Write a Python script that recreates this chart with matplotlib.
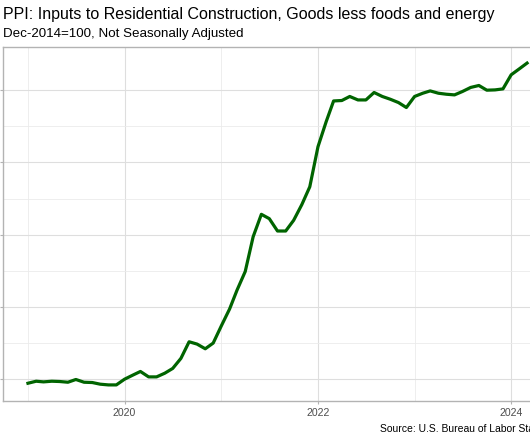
import pandas as pd
import matplotlib
matplotlib.use("Agg")
import matplotlib.pyplot as plt
import matplotlib.dates as mdates

plt.rcParams['font.family'] = ['Liberation Sans', 'DejaVu Sans']

### monthly index, Dec-2014=100
dates = pd.date_range("2019-01-01", periods=63, freq="MS")
ppi = [
    109.44, 109.72, 109.63, 109.72, 109.68, 109.58, 109.96, 109.58, 109.54, 109.31, 109.21, 109.21,
    110.00, 110.56, 111.07, 110.32, 110.32, 110.83, 111.49, 112.88, 115.18, 114.86, 114.21, 115.00,
    117.40, 119.72, 122.32, 124.90, 129.72, 132.82, 132.22, 130.51, 130.51, 131.99, 134.17, 136.63,
    142.18, 145.65, 148.51, 148.57, 149.13, 148.65, 148.65, 149.68, 149.13, 148.75, 148.29, 147.60,
    149.13, 149.58, 149.90, 149.58, 149.44, 149.35, 149.82, 150.38, 150.65, 150.00, 150.04, 150.18,
    152.13, 152.96, 153.75,
]
major_years = [2020, 2022, 2024]
minor_years = [2019, 2021, 2023]

W, H = 530, 442
fig = plt.figure(figsize=(W / 100, H / 100), dpi=100)
# panel runs off the right edge like the cropped original
ax = fig.add_axes([3 / W, 41 / H, 549 / W, 354 / H])

ax.plot(dates, ppi, color="#006400", lw=2.3, solid_joinstyle="round")
ax.margins(x=0.05, y=0.05)

ax.set_xticks([pd.Timestamp(f"{y}-01-01") for y in major_years])
ax.set_xticks([pd.Timestamp(f"{y}-01-01") for y in minor_years], minor=True)
ax.xaxis.set_major_formatter(mdates.DateFormatter("%Y"))
ax.set_yticks([110, 120, 130, 140, 150])
ax.set_yticks([115, 125, 135, 145], minor=True)

ax.grid(which="major", color="#dedede", lw=0.8)
ax.grid(which="minor", color="#ebebeb", lw=0.6)
ax.set_axisbelow(True)
for s in ax.spines.values():
    s.set_color("#b3b3b3")
    s.set_linewidth(1.0)
ax.tick_params(which="major", colors="#b3b3b3", length=2.2, pad=2.5,
               labelcolor="#4d4d4d", labelsize=7.6)
ax.tick_params(axis="y", labelleft=False)
ax.tick_params(which="minor", length=0)

fig.text(3 / W, 1 - 15 / H, "PPI: Inputs to Residential Construction, Goods less foods and energy",
         fontsize=11.5, va="center", ha="left")
fig.text(3 / W, 1 - 34 / H, "Dec-2014=100, Not Seasonally Adjusted",
         fontsize=9.6, va="center", ha="left")
fig.text(380 / W, 1 - 429 / H, "Source: U.S. Bureau of Labor Statistics",
         fontsize=7.5, va="center", ha="left")

fig.savefig("out.png", dpi=100)
